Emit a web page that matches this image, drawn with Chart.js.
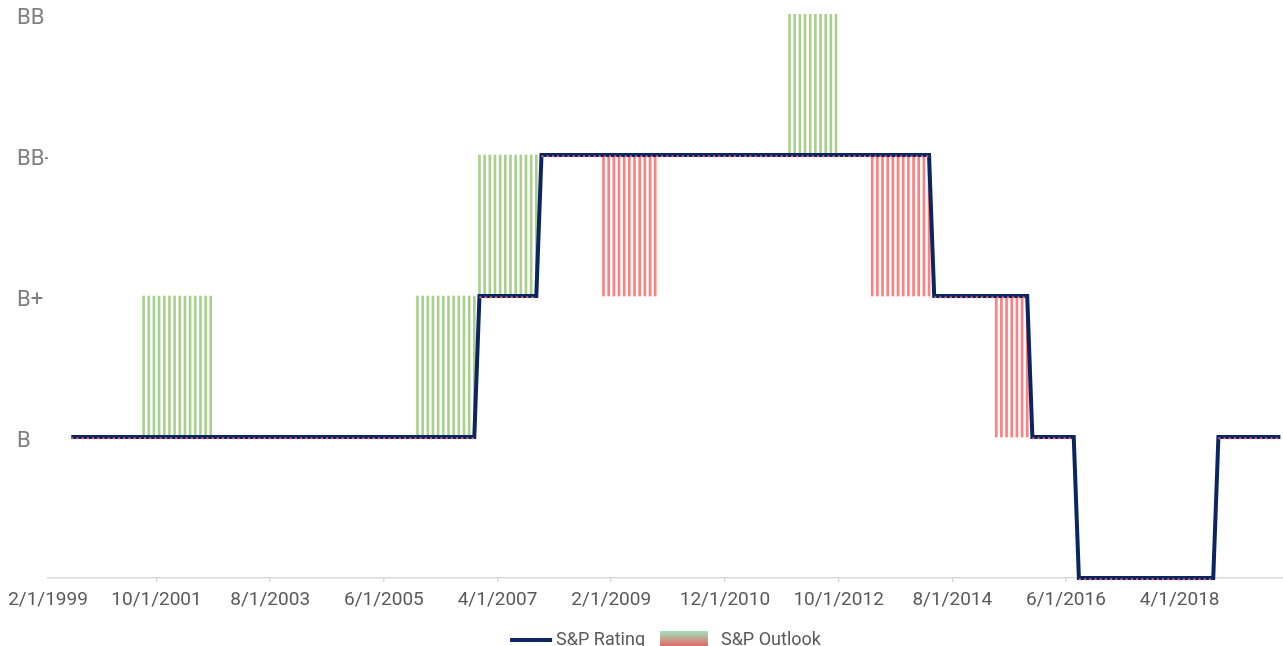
<!DOCTYPE html>
<html>
<head>
<meta charset="utf-8">
<title>S&amp;P Rating and Outlook</title>
<script src="https://cdn.jsdelivr.net/npm/chart.js@4/dist/chart.umd.min.js"></script>
<style>
  html, body { margin: 0; padding: 0; background: #ffffff; overflow: hidden; }
  #wrap { position: relative; width: 1283px; height: 646px; }
</style>
</head>
<body>
<div id="wrap"><canvas id="ratingChart"></canvas></div>
<script>
// Rating ladder, lowest rung first
const ratingScale = ['B-', 'B', 'B+', 'BB-', 'BB'];

// S&P issuer rating: month each rating took effect
const ratingStart = ['2000-05', '2006-12', '2007-12', '2014-04', '2015-11', '2016-08', '2018-11'];
const ratingValue = ['B', 'B+', 'BB-', 'B+', 'B', 'B-', 'B'];
const ratingLastMonth = '2019-11';

// S&P outlook: non-stable periods (first month, last month, direction)
const outlookStart = ['2001-07', '2005-12', '2006-12', '2008-12', '2011-12', '2013-04', '2015-04'];
const outlookEnd   = ['2002-08', '2006-11', '2007-11', '2009-10', '2012-09', '2014-03', '2015-10'];
const outlookDir   = ['Positive', 'Positive', 'Positive', 'Negative', 'Positive', 'Negative', 'Negative'];

// Date axis: month bands shown and the labelled band edges
const axisFirstMonth = '2000-01';
const axisLastMonth = '2019-11';
const xTickMonths = ['2000-01', '2001-10', '2003-08', '2005-06', '2007-04', '2009-02', '2010-12', '2012-10', '2014-08', '2016-06', '2018-04'];
const xTickLabels = ['2/1/1999', '10/1/2001', '8/1/2003', '6/1/2005', '4/1/2007', '2/1/2009', '12/1/2010', '10/1/2012', '8/1/2014', '6/1/2016', '4/1/2018'];

const NAVY = '#0b2561';
const GREEN = 'rgb(169, 209, 142)';
const RED = 'rgb(255, 128, 128)';

function monthIndex(ym) {
  const [y, m] = ym.split('-').map(Number);
  return y * 12 + (m - 1);
}

function ratingAt(month) {
  let r = null;
  ratingStart.forEach((s, i) => {
    if (monthIndex(s) <= month) r = ratingScale.indexOf(ratingValue[i]);
  });
  return r;
}

// Rating path: one point at each end of every rating period
const ratingPoints = [];
ratingStart.forEach((s, i) => {
  const from = monthIndex(s);
  const to = i + 1 < ratingStart.length ? monthIndex(ratingStart[i + 1]) - 1 : monthIndex(ratingLastMonth);
  const y = ratingScale.indexOf(ratingValue[i]);
  ratingPoints.push({ x: from, y: y }, { x: to, y: y });
});

// Outlook: one thin floating bar per month, one notch up or down from the rating
const positiveBars = [];
const negativeBars = [];
outlookStart.forEach((s, i) => {
  for (let m = monthIndex(s); m <= monthIndex(outlookEnd[i]); m++) {
    const r = ratingAt(m);
    if (outlookDir[i] === 'Positive') positiveBars.push({ x: m, y: [r, r + 1] });
    else negativeBars.push({ x: m, y: [r - 1, r] });
  }
});

// Nudges a dataset down by a few pixels (used for the outlook trace under the rating line)
const shiftPlugin = {
  id: 'shiftDataset',
  beforeDatasetDraw(chart, args) {
    const shift = chart.data.datasets[args.index].yShift;
    chart.ctx.save();
    if (shift) chart.ctx.translate(0, shift);
  },
  afterDatasetDraw(chart) {
    chart.ctx.restore();
  }
};

// Legend below the axis: rating line swatch and a green-to-red outlook swatch
const legendPlugin = {
  id: 'ratingLegend',
  afterDraw(chart) {
    const ctx = chart.ctx;
    const area = chart.chartArea;
    ctx.save();
    ctx.font = '18px Roboto, "Open Sans", sans-serif';
    ctx.fillStyle = '#595959';
    ctx.textBaseline = 'alphabetic';
    const items = [
      { label: 'S&P Rating', kind: 'line' },
      { label: 'S&P Outlook', kind: 'box' }
    ];
    const lineW = 42, boxW = 48, boxH = 16, gapSwatch = 4, gapBoxText = 13, gapItems = 15;
    const widths = items.map(it => ctx.measureText(it.label).width);
    const total = lineW + gapSwatch + widths[0] + gapItems + boxW + gapBoxText + widths[1];
    let x = (area.left + area.right) / 2 - total / 2;
    const midY = 640;
    const baseY = 645;

    // rating line
    ctx.strokeStyle = NAVY;
    ctx.lineWidth = 4;
    ctx.beginPath();
    ctx.moveTo(x, midY);
    ctx.lineTo(x + lineW, midY);
    ctx.stroke();
    x += lineW + gapSwatch;
    ctx.fillText(items[0].label, x, baseY);
    x += widths[0] + gapItems;

    // outlook swatch
    const g = ctx.createLinearGradient(0, midY - 9, 0, midY - 9 + boxH);
    g.addColorStop(0, 'rgb(160, 228, 190)');
    g.addColorStop(1, 'rgb(232, 96, 96)');
    ctx.fillStyle = g;
    ctx.fillRect(x, midY - 9, boxW, boxH);
    x += boxW + gapBoxText;
    ctx.fillStyle = '#595959';
    ctx.fillText(items[1].label, x, baseY);
    ctx.restore();
  }
};

new Chart(document.getElementById('ratingChart'), {
  type: 'line',
  data: {
    datasets: [
      {
        label: 'S&P Outlook trace',
        data: ratingPoints,
        borderColor: 'rgb(255, 110, 110)',
        borderWidth: 1.6,
        borderDash: [2, 3.2],
        pointRadius: 0,
        tension: 0,
        yShift: 1.4,
        clip: false,
        order: 0,
        segment: {
          borderColor: c => (c.p0.parsed.y !== c.p1.parsed.y ? 'rgba(0,0,0,0)' : undefined)
        }
      },
      {
        label: 'S&P Rating',
        data: ratingPoints,
        borderColor: NAVY,
        borderWidth: 4,
        pointRadius: 0,
        tension: 0,
        borderJoinStyle: 'miter',
        clip: false,
        order: 1
      },
      {
        type: 'bar',
        label: 'S&P Outlook',
        data: positiveBars,
        backgroundColor: GREEN,
        borderWidth: 0,
        barThickness: 2,
        grouped: false,
        order: 2
      },
      {
        type: 'bar',
        label: 'S&P Outlook',
        data: negativeBars,
        backgroundColor: RED,
        borderWidth: 0,
        barThickness: 2,
        grouped: false,
        order: 2
      }
    ]
  },
  options: {
    responsive: true,
    maintainAspectRatio: false,
    animation: false,
    devicePixelRatio: 1,
    layout: { padding: { left: 17, right: 0, top: 14, bottom: 0 } },
    plugins: {
      legend: { display: false },
      tooltip: { enabled: false }
    },
    scales: {
      x: {
        type: 'linear',
        offset: false,
        min: monthIndex(axisFirstMonth) - 0.5,
        max: monthIndex(axisLastMonth) + 0.5,
        afterBuildTicks: scale => {
          // points sit mid-band; labelled ticks mark the start of a month band
          scale.ticks = xTickMonths.map(m => ({ value: monthIndex(m) - 0.5 }));
        },
        afterFit: scale => { scale.height = 68; },
        grid: {
          display: true,
          offset: false,
          drawOnChartArea: false,
          drawTicks: true,
          tickLength: 4,
          lineWidth: 1.5,
          color: c => (c.index === 0 ? 'rgba(0,0,0,0)' : '#d9d9d9')
        },
        border: { display: true, color: '#d9d9d9', width: 1.5 },
        ticks: {
          autoSkip: false,
          maxRotation: 0,
          minRotation: 0,
          padding: 7,
          color: '#595959',
          font: { family: 'Roboto, "Open Sans", sans-serif', size: 19 },
          callback: (v, i) => xTickLabels[i]
        }
      },
      y: {
        type: 'linear',
        min: 0,
        max: ratingScale.length - 1,
        afterFit: scale => { scale.width = 31; },
        grid: { display: false, drawTicks: false },
        border: { display: false },
        ticks: {
          stepSize: 1,
          crossAlign: 'far',
          padding: 0,
          labelOffset: 4,
          color: '#7f7f7f',
          font: { family: 'Roboto, "Open Sans", sans-serif', size: 22 },
          // the bottom rung is left unlabelled
          callback: v => (v === 0 ? '' : ratingScale[v])
        }
      }
    }
  },
  plugins: [shiftPlugin, legendPlugin]
});
</script>
</body>
</html>
